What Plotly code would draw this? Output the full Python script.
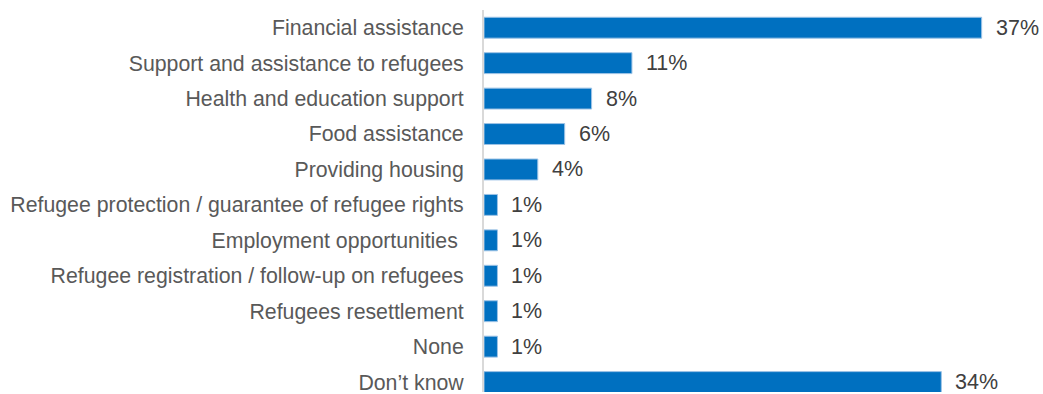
import plotly.graph_objects as go

categories = [
    "Financial assistance",
    "Support and assistance to refugees",
    "Health and education support",
    "Food assistance",
    "Providing housing",
    "Refugee protection / guarantee of refugee rights",
    "Employment opportunities\u00a0",
    "Refugee registration / follow-up on refugees",
    "Refugees resettlement",
    "None",
    "Don\u2019t know",
]
values = [37, 11, 8, 6, 4, 1, 1, 1, 1, 1, 34]
labels = [f"{v}%" for v in values]

BAR = "#0070C0"
FONT = "Liberation Sans, Arial, sans-serif"

fig = go.Figure(
    go.Bar(
        x=values,
        y=categories,
        orientation="h",
        marker=dict(color=BAR, line=dict(color="#9DC3E6", width=1)),
        width=0.59,
        hoverinfo="skip",
    )
)

for cat, v, lab in zip(categories, values, labels):
    fig.add_annotation(
        x=v, y=cat, text=lab, xanchor="left", xshift=12, yshift=0,
        showarrow=False, font=dict(family=FONT, size=21.5, color="#404040"),
    )

fig.update_layout(
    width=1043, height=394,
    margin=dict(l=484, r=0, t=10, b=0),
    paper_bgcolor="white", plot_bgcolor="white",
    showlegend=False,
    font=dict(family=FONT, size=21.3, color="#595959"),
)
fig.update_xaxes(range=[0, 41.56], visible=False, showgrid=False)
fig.update_yaxes(
    type="category",
    categoryorder="array", categoryarray=categories,
    range=[10.28, -0.5],
    showgrid=False, showline=True, linecolor="#D9D9D9", linewidth=2,
    ticks="", ticklabelstandoff=14,
    tickfont=dict(family=FONT, size=21.3, color="#595959"),
)

fig.write_html("out.html")
